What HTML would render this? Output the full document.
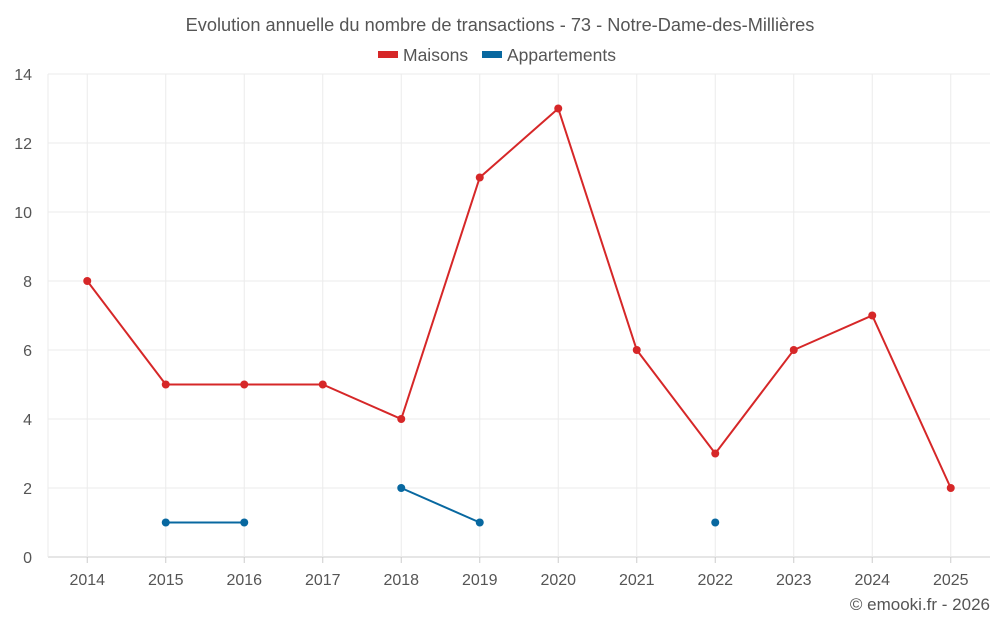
<!DOCTYPE html>
<html><head><meta charset="utf-8"><style>
body{margin:0;background:#fff;}
svg{display:block;font-family:"Liberation Sans",sans-serif;}
</style></head><body>
<svg id="chart" width="1000" height="625">
<text x="500" y="31" text-anchor="middle" font-size="18.2" fill="#555">Evolution annuelle du nombre de transactions - 73 - Notre-Dame-des-Millières</text>
<g><rect x="378" y="51" width="20" height="7" fill="#d62728"/><text x="403" y="61" font-size="17.5" fill="#555">Maisons</text></g>
<g><rect x="482" y="51" width="20" height="7" fill="#0868a0"/><text x="507" y="61" font-size="17.5" fill="#555">Appartements</text></g>
<g id="grid"></g><g id="axes"></g><g id="series"></g>
<text x="990" y="610" text-anchor="end" font-size="17" fill="#555">© emooki.fr - 2026</text>
</svg>
<script>
const categories=["2014","2015","2016","2017","2018","2019","2020","2021","2022","2023","2024","2025"];
const maisons=[8,5,5,5,4,11,13,6,3,6,7,2];
const appartements=[null,1,1,null,2,1,null,null,1,null,null,null];
const yTicks=[0,2,4,6,8,10,12,14];
const NS="http://www.w3.org/2000/svg";
const L=48,R=990,T=74,B=557,yMax=14;
const bw=(R-L)/categories.length;
const xs=i=>L+bw*(i+0.5);
const ys=v=>B-(v/yMax)*(B-T);
function mk(tag,attrs,parent){const e=document.createElementNS(NS,tag);for(const k in attrs)e.setAttribute(k,attrs[k]);parent.appendChild(e);return e;}
const grid=document.getElementById('grid'),axes=document.getElementById('axes'),ser=document.getElementById('series');
yTicks.forEach(v=>{
 const l=mk('line',{x1:L,x2:R,y1:ys(v),y2:ys(v),stroke:v===0?'#ccc':'#ebebeb','stroke-width':1},grid);
 
 
 const t=mk('text',{x:L-16,y:ys(v)+6,'text-anchor':'end','font-size':16,fill:'#555'},axes);
 t.textContent=v;
 
 
});
categories.forEach((c,i)=>{
 const l=mk('line',{x1:xs(i),x2:xs(i),y1:T,y2:B,stroke:'#ebebeb','stroke-width':1},grid);
 
 
 const tk=mk('line',{x1:xs(i),x2:xs(i),y1:B,y2:B+6,stroke:'#ccc'},axes);
 
 
 const t=mk('text',{x:xs(i),y:B+28,'text-anchor':'middle','font-size':16,fill:'#555'},axes);
 t.textContent=c;
 
 
});
const la=mk('line',{x1:L,x2:L,y1:T,y2:B,stroke:'#ebebeb'},grid);


function draw(data,color,name){
 let segs=[],cur=[];
 data.forEach((v,i)=>{if(v==null){if(cur.length)segs.push(cur);cur=[];}else cur.push([xs(i),ys(v)]);});
 if(cur.length)segs.push(cur);
 segs.forEach(s=>{if(s.length>1){const p=mk('polyline',{points:s.map(q=>q.join(',')).join(' '),fill:'none',stroke:color,'stroke-width':2},ser);
  
  }});
 data.forEach((v,i)=>{if(v==null)return;const c=mk('circle',{cx:xs(i),cy:ys(v),r:4,fill:color},ser);
  
  });
}
draw(maisons,'#d62728','maisons');
draw(appartements,'#0868a0','appartements');
</script>
</body></html>
